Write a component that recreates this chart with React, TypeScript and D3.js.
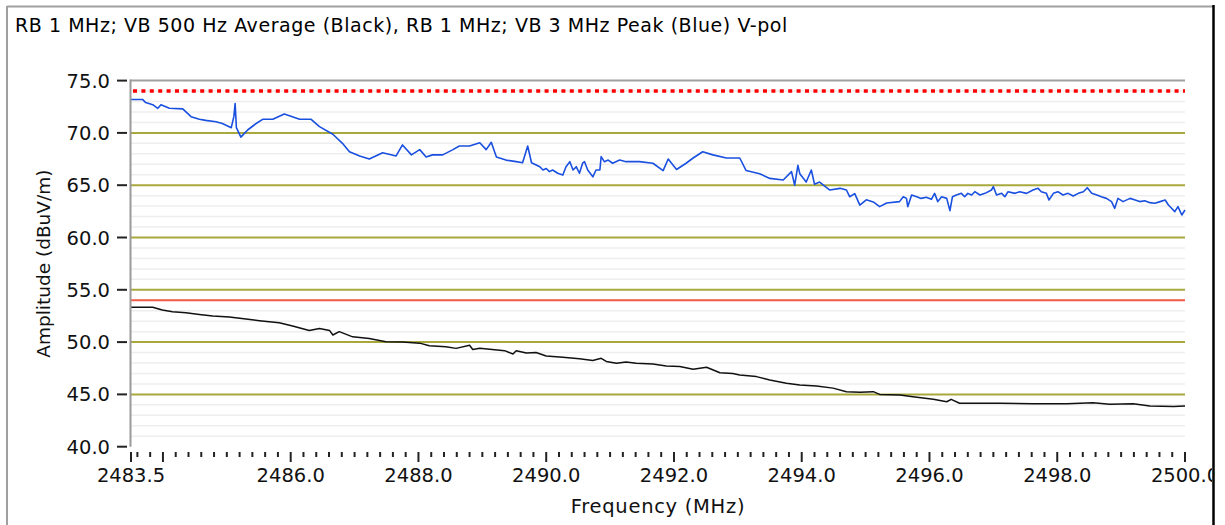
import React from "react";
import * as d3 from "d3";

const TITLE = "RB 1 MHz; VB 500 Hz Average (Black), RB 1 MHz; VB 3 MHz Peak (Blue) V-pol";
const X_LABEL = "Frequency (MHz)";
const Y_LABEL = "Amplitude (dBuV/m)";

const yMajorTicks = [40, 45, 50, 55, 60, 65, 70, 75];
const oliveGridValues = [45, 50, 55, 60, 65, 70];
const xLabelTicks = [2483.5, 2486, 2488, 2490, 2492, 2494, 2496, 2498, 2500];
const peakLimit = 74.0;
const avgLimit = 54.0;

const blueFreq = [
  2483.5, 2483.68, 2483.73, 2483.84, 2483.92, 2483.97, 2484.1, 2484.31, 2484.44, 2484.57,
  2484.67, 2484.83, 2484.93, 2485.07, 2485.11, 2485.13, 2485.15, 2485.22, 2485.33, 2485.46,
  2485.56, 2485.72, 2485.9, 2486.14, 2486.32, 2486.45, 2486.66, 2486.81, 2486.92, 2487.08,
  2487.23, 2487.44, 2487.65, 2487.75, 2487.89, 2488.02, 2488.12, 2488.22, 2488.38, 2488.54,
  2488.64, 2488.8, 2488.96, 2489.06, 2489.14, 2489.22, 2489.37, 2489.53, 2489.63, 2489.71,
  2489.77,
  2489.9, 2489.95, 2490.0, 2490.05, 2490.1, 2490.18, 2490.26, 2490.31, 2490.37, 2490.42,
  2490.47, 2490.52, 2490.57, 2490.6, 2490.65, 2490.73, 2490.78, 2490.84, 2490.86, 2490.91,
  2490.97, 2491.04,
  2491.15, 2491.25, 2491.46, 2491.67, 2491.83, 2491.91, 2492.04, 2492.19, 2492.3,
  2492.45, 2492.61, 2492.82, 2493.03, 2493.13, 2493.34, 2493.5, 2493.71, 2493.84, 2493.89,
  2493.94, 2493.97, 2494.07, 2494.15, 2494.2, 2494.28, 2494.44, 2494.6, 2494.7, 2494.75,
  2494.83, 2494.91, 2495.01, 2495.12, 2495.22, 2495.33,
  2495.53, 2495.59, 2495.64, 2495.66, 2495.72, 2495.8, 2495.87, 2495.95, 2496.03, 2496.08,
  2496.13, 2496.19, 2496.27, 2496.32, 2496.36, 2496.42, 2496.5, 2496.55, 2496.6, 2496.66,
  2496.71, 2496.79, 2496.87, 2496.97, 2497.0, 2497.05, 2497.13, 2497.18, 2497.23, 2497.34,
  2497.41, 2497.52, 2497.62, 2497.7, 2497.75, 2497.83, 2497.87, 2497.94, 2498.01, 2498.09,
  2498.17, 2498.25, 2498.33, 2498.41, 2498.47, 2498.54, 2498.62, 2498.69, 2498.77, 2498.85,
  2498.9, 2498.95, 2499.03, 2499.14, 2499.22, 2499.29, 2499.37, 2499.45, 2499.53, 2499.61,
  2499.69, 2499.74, 2499.79, 2499.84, 2499.89, 2499.95, 2500.0,
];
const blueAmp = [
  73.2, 73.2, 72.9, 72.7, 72.35, 72.7, 72.35, 72.3, 71.55, 71.3,
  71.2, 71.07, 70.9, 70.5, 71.55, 72.8, 70.5, 69.6, 70.3, 70.9,
  71.3, 71.3, 71.8, 71.3, 71.3, 70.6, 69.87, 69.0, 68.2, 67.8,
  67.5, 68.1, 67.8, 68.85, 67.9, 68.4, 67.7, 67.9, 67.9, 68.4,
  68.75, 68.75, 69.06, 68.4, 69.1, 67.7, 67.4, 67.25, 67.15, 68.75,
  67.15,
  66.77, 66.45, 66.6, 66.3, 66.45, 66.14, 65.97, 66.77, 67.25, 66.45,
  66.77, 66.14, 67.1, 67.25, 66.45, 65.8, 66.45, 66.45, 67.73, 67.25,
  67.4, 67.1,
  67.4, 67.25, 67.25, 67.1, 66.4, 67.5, 66.5, 67.1, 67.6,
  68.2, 67.9, 67.6, 67.6, 66.4, 66.1, 65.65, 65.5, 66.3, 65.0,
  66.9, 66.1, 65.3, 66.45, 65.1, 65.3, 64.54, 64.7, 64.54, 63.9,
  64.2, 63.1, 63.6, 63.4, 62.95, 63.3,
  63.43, 63.9, 63.74, 62.95, 64.06, 63.9, 63.74, 63.84, 63.65, 64.22,
  63.43, 63.9, 63.74, 62.57, 63.9, 64.06, 64.22, 63.9, 64.22, 64.06,
  64.38, 64.06, 64.22, 64.54, 64.86, 64.06, 64.22, 63.9, 64.38, 64.22,
  64.38, 64.22, 64.54, 64.7, 64.38, 64.22, 63.59, 64.22, 64.38, 64.06,
  64.22, 63.97, 64.22, 64.38, 64.76, 64.22, 64.06, 63.9, 63.74, 63.43,
  62.79, 63.74, 63.43, 63.74, 63.59, 63.43, 63.52, 63.33, 63.27, 63.43,
  63.59, 63.11, 62.79, 62.47, 62.95, 62.15, 62.63,
];

const blackFreq = [
  2483.5, 2483.84, 2483.99, 2484.15, 2484.36, 2484.57, 2484.78, 2485.04, 2485.3, 2485.51,
  2485.82, 2486.03, 2486.29, 2486.45, 2486.61, 2486.66, 2486.76, 2486.97, 2487.23, 2487.49,
  2487.75, 2488.02, 2488.17, 2488.43, 2488.59, 2488.8, 2488.85, 2488.96, 2489.35, 2489.48,
  2489.53, 2489.69, 2489.84, 2490.0, 2490.26, 2490.52, 2490.73, 2490.86, 2490.94, 2491.1,
  2491.25, 2491.41, 2491.67, 2491.88, 2492.09, 2492.3, 2492.51, 2492.72, 2492.92, 2493.03,
  2493.29, 2493.5, 2493.76, 2493.97, 2494.23, 2494.49, 2494.7, 2494.91, 2495.12, 2495.22,
  2495.54, 2495.74, 2496.06, 2496.27, 2496.34, 2496.47, 2496.84, 2497.1, 2497.62, 2498.15,
  2498.56, 2498.82, 2499.19, 2499.45, 2499.82, 2500.0,
];
const blackAmp = [
  53.33, 53.33, 53.07, 52.9, 52.8, 52.65, 52.5, 52.4, 52.2, 52.05,
  51.85, 51.54, 51.1, 51.3, 51.1, 50.68, 51.0, 50.5, 50.35, 50.04,
  50.0, 49.9, 49.65, 49.55, 49.4, 49.7, 49.3, 49.42, 49.18, 48.86,
  49.18, 48.95, 49.0, 48.67, 48.55, 48.4, 48.25, 48.45, 48.15, 47.97,
  48.1, 47.97, 47.9, 47.72, 47.66, 47.4, 47.6, 47.07, 47.0, 46.85,
  46.7, 46.38, 46.06, 45.9, 45.8, 45.6, 45.26, 45.2, 45.26, 45.0,
  44.95, 44.78, 44.53, 44.3, 44.53, 44.15, 44.15, 44.15, 44.1, 44.1,
  44.2, 44.07, 44.1, 43.9, 43.85, 43.9,
];

const FONT = "DejaVu Sans, Verdana, sans-serif";

export default function App() {
  const left = 131, right = 1185, top = 80.6, bottom = 446.7;
  const x = d3.scaleLinear().domain([2483.5, 2500]).range([left, right]);
  const y = d3.scaleLinear().domain([40, 75]).range([bottom, top]);

  const minorY = d3.range(41, 75).filter((v) => v % 5 !== 0);
  const xTickVals = [2483.5, ...d3.range(0, 83).map((i) => 2483.6 + i * 0.2)].filter((v) => v <= 2500.001);

  const mkPath = (fs: number[], vs: number[]) =>
    d3
      .line<number>()
      .x((d) => x(d))
      .y((_, i) => y(vs[i]))(fs) || "";

  const bluePath = mkPath(blueFreq, blueAmp);
  const blackPath = mkPath(blackFreq, blackAmp);

  return (
    <svg
      width={1225}
      height={525}
      style={{ position: "absolute", left: 0, top: 0, display: "block", background: "#fff" }}
      fontFamily={FONT}
    >
      <defs>
        <clipPath id="plotclip">
          <rect x={left} y={top - 3} width={right - left + 1} height={bottom - top + 6} />
        </clipPath>
        <clipPath id="frameclip">
          <rect x={0} y={0} width={1212} height={525} />
        </clipPath>
      </defs>
      <rect x={0} y={0} width={1225} height={525} fill="#fff" />
      {/* outer frame */}
      <line x1={7} y1={6.5} x2={1213} y2={6.5} stroke="#a0a0a0" strokeWidth={2} />
      <line x1={7} y1={6} x2={7} y2={525} stroke="#a0a0a0" strokeWidth={2} />

      <text x={15} y={32} fontSize={19} letterSpacing={0.55} fill="#000">
        {TITLE}
      </text>

      {/* minor grid */}
      {minorY.map((v) => (
        <line key={"m" + v} x1={left} x2={right} y1={y(v)} y2={y(v)} stroke="#eeeeee" strokeWidth={1.5} />
      ))}
      {/* olive grid */}
      {oliveGridValues.map((v) => (
        <line key={"o" + v} x1={left} x2={right} y1={y(v)} y2={y(v)} stroke="#a8a83c" strokeWidth={2} />
      ))}
      {/* plot top border */}
      <line x1={left - 1} x2={right} y1={top} y2={top} stroke="#a0a0a0" strokeWidth={2} />
      {/* limits */}
      <line x1={left} x2={right} y1={y(avgLimit)} y2={y(avgLimit)} stroke="#f25a48" strokeWidth={2} />
      <line
        x1={left + 2}
        x2={right}
        y1={y(peakLimit)}
        y2={y(peakLimit)}
        stroke="#ff0000"
        strokeWidth={3.5}
        strokeDasharray="4 4.4"
      />

      <g clipPath="url(#plotclip)">
        <path d={bluePath} fill="none" stroke="#1a50e0" strokeWidth={1.6} strokeLinejoin="round" />
        <path d={blackPath} fill="none" stroke="#111" strokeWidth={1.5} strokeLinejoin="round" />
      </g>

      {/* y axis line */}
      <line x1={left - 0.5} x2={left - 0.5} y1={top - 1} y2={bottom} stroke="#9a9a9a" strokeWidth={2} />

      {/* y ticks */}
      {yMajorTicks.map((v) => (
        <g key={"yt" + v}>
          <line x1={117} x2={127} y1={y(v)} y2={y(v)} stroke="#222" strokeWidth={2} />
          <text x={110} y={y(v) + 7} textAnchor="end" fontSize={19.5} fill="#111">
            {v.toFixed(1)}
          </text>
        </g>
      ))}

      {/* x ticks */}
      {xTickVals.map((v, i) => {
        const k = (v - 2484) / 2;
        const isMajor = i === 0 || Math.abs(k - Math.round(k)) < 1e-6;
        return (
          <line
            key={"xt" + i}
            x1={x(v)}
            x2={x(v)}
            y1={452}
            y2={isMajor ? 462 : 457}
            stroke="#222"
            strokeWidth={2}
          />
        );
      })}
      <g clipPath="url(#frameclip)">
        {xLabelTicks.map((v) => (
          <text key={"xl" + v} x={x(v)} y={482} textAnchor="middle" fontSize={19.5} fill="#111">
            {v.toFixed(1)}
          </text>
        ))}
      </g>

      <text x={658} y={513} textAnchor="middle" fontSize={19.5} letterSpacing={0.7} fill="#111">
        {X_LABEL}
      </text>
      <text
        transform={`translate(50, ${(top + bottom) / 2}) rotate(-90)`}
        textAnchor="middle"
        fontSize={18.5}
        fill="#111"
      >
        {Y_LABEL}
      </text>

      {/* right frame border */}
      <line x1={1213.5} x2={1213.5} y1={5} y2={525} stroke="#000" strokeWidth={2.5} />
    </svg>
  );
}
